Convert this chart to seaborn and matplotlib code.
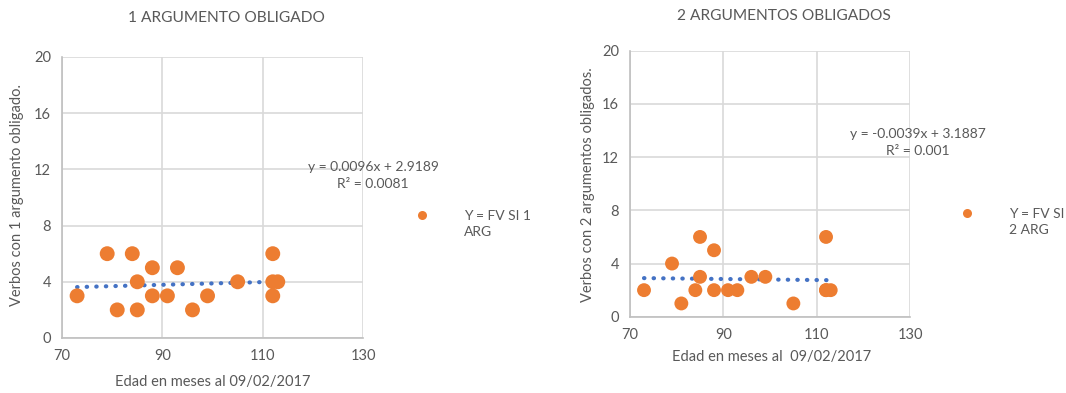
import numpy as np
import pandas as pd
import seaborn as sns
import matplotlib
matplotlib.use("Agg")
import matplotlib.pyplot as plt
from matplotlib.lines import Line2D

# Edad en meses (shared by both charts)
edad = [73, 79, 81, 84, 85, 85, 88, 88, 91, 93, 96, 99, 105, 112, 112, 112, 113]
# Verbos con 1 argumento obligado
verbos_1arg = [3, 6, 2, 6, 4, 2, 5, 3, 3, 5, 2, 3, 4, 6, 4, 3, 4]
# Verbos con 2 argumentos obligados
verbos_2arg = [2, 4, 1, 2, 6, 3, 5, 2, 2, 2, 3, 3, 1, 6, 2, 2, 2]

x_ticks = [70, 90, 110, 130]
y_ticks = [0, 4, 8, 12, 16, 20]

titles = ["1 ARGUMENTO OBLIGADO", "2 ARGUMENTOS OBLIGADOS"]
x_labels = ["Edad en meses al 09/02/2017", "Edad en meses al  09/02/2017"]
y_labels = ["Verbos con 1 argumento obligado.", "Verbos con 2 argumentos obligados."]
legend_labels = [["Y = FV SI 1", "ARG"], ["Y = FV SI", "2 ARG"]]
equations = ["y = 0.0096x + 2.9189\nR² = 0.0081", "y = -0.0039x + 3.1887\nR² = 0.001"]

ORANGE = "#ED7D31"
BLUE = "#4472C4"
TEXT = "#595959"
GRID = "#D9D9D9"

sns.set_theme(style="white")
plt.rcParams["font.family"] = ["Lato", "DejaVu Sans"]

df = pd.DataFrame({"edad": edad, "arg1": verbos_1arg, "arg2": verbos_2arg})

fig = plt.figure(figsize=(10.66, 3.93), dpi=100)

# axes rectangles in figure fractions
rects = [[0.0582, 0.140, 0.2824, 0.715], [0.591, 0.194, 0.2627, 0.677]]
cols = ["arg1", "arg2"]
marker_size = [115, 100]
title_pos = [(0.212, 0.954), (0.7355, 0.959)]
xlabel_pos = [(0.200, 0.028), (0.724, 0.092)]
ylabel_pos = [(0.016, 0.504), (0.552, 0.53)]
eq_pos = [(0.350, 0.553), (0.861, 0.638)]
leg_pos = [(0.383, 0.430), (0.894, 0.435)]

for i in range(2):
    ax = fig.add_axes(rects[i])
    sns.regplot(data=df, x="edad", y=cols[i], ax=ax, scatter=False, ci=None,
                line_kws=dict(color=BLUE, linestyle=(0, (0.1, 2.2)), linewidth=3,
                              dash_capstyle="round", zorder=2))
    sns.scatterplot(data=df, x="edad", y=cols[i], ax=ax, color=ORANGE, s=marker_size[i],
                    edgecolor="none", zorder=3, legend=False)
    ax.set_xlim(70, 130)
    ax.set_ylim(0, 20)
    ax.set_xticks(x_ticks)
    ax.set_yticks(y_ticks)
    ax.grid(True, color=GRID, linewidth=1.2)
    ax.set_axisbelow(True)
    for s in ["top", "right"]:
        ax.spines[s].set_visible(False)
    for s in ["left", "bottom"]:
        ax.spines[s].set_color("#BFBFBF")
        ax.spines[s].set_linewidth(1.2)
    ax.tick_params(axis="both", labelsize=10.5, colors=TEXT, length=0, pad=8)
    ax.set_xlabel("")
    ax.set_ylabel("")

    fig.text(*title_pos[i], titles[i], ha="center", va="center", fontsize=11.2, color=TEXT)
    fig.text(*xlabel_pos[i], x_labels[i], ha="center", va="center", fontsize=10.5, color=TEXT)
    fig.text(*ylabel_pos[i], y_labels[i], ha="center", va="center", rotation=90,
             fontsize=10.5, color=TEXT)
    fig.text(*eq_pos[i], equations[i], ha="center", va="center", fontsize=10,
             color=TEXT, linespacing=1.5)

    # legend: marker beside first line only, second line wraps under the text
    handles = [Line2D([], [], marker="o", linestyle="none", color=ORANGE, markersize=6.5,
                      markeredgewidth=0),
               Line2D([], [], linestyle="none")]
    ax.legend(handles, legend_labels[i], loc="center left", bbox_to_anchor=leg_pos[i],
              bbox_transform=fig.transFigure, frameon=False, fontsize=10,
              handletextpad=2.0, labelspacing=0.3, labelcolor=TEXT,
              borderpad=0, borderaxespad=0)

fig.savefig("out.png", dpi=100)
